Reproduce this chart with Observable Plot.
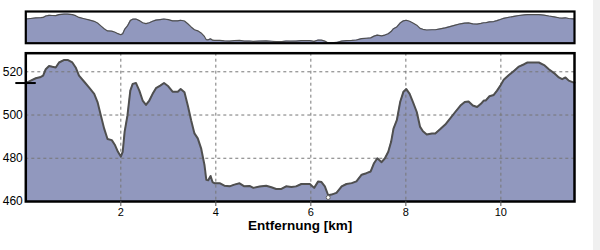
<!DOCTYPE html>
<html><head><meta charset="utf-8">
<script src="https://cdn.jsdelivr.net/npm/d3@7"></script>
<script src="https://cdn.jsdelivr.net/npm/@observablehq/plot@0.6"></script>
<style>
body{margin:0;background:#fff;font-family:"Liberation Sans",Arial,sans-serif;}
#wrap{position:relative;width:600px;height:250px;overflow:hidden;}
#wrap svg{position:absolute;left:0;top:0;overflow:visible;}
#strip{position:absolute;left:593px;top:0;width:7px;height:250px;background:#f0f0f0;}
</style></head><body><div id="wrap"><div id="strip"></div></div>
<script>
const distanceKm = [
  0, 0.105, 0.21, 0.316, 0.365, 0.42, 0.49, 0.56, 0.63, 0.70,
  0.81, 0.88, 0.98, 1.05, 1.12, 1.23, 1.33, 1.44, 1.51, 1.58,
  1.65, 1.72, 1.81, 1.88, 1.94, 2.00, 2.04, 2.08, 2.14, 2.20,
  2.25, 2.32, 2.39, 2.46, 2.53, 2.60, 2.67, 2.74, 2.83, 2.91,
  3.00, 3.09, 3.20, 3.26, 3.34, 3.41, 3.48, 3.55, 3.62, 3.69,
  3.76, 3.80, 3.84, 3.89, 3.93, 3.97, 4.08, 4.18, 4.29, 4.39,
  4.50, 4.60, 4.71, 4.79, 4.92, 5.06, 5.17, 5.27, 5.38, 5.48,
  5.59, 5.69, 5.80, 5.98, 6.07, 6.155, 6.225, 6.295, 6.365, 6.435,
  6.54, 6.65, 6.75, 6.86, 6.96, 7.07, 7.17, 7.26, 7.33, 7.40,
  7.49, 7.56, 7.63, 7.69, 7.74, 7.81, 7.88, 7.95, 8.01, 8.08,
  8.15, 8.23, 8.30, 8.36, 8.44, 8.55, 8.62, 8.72, 8.83, 8.93,
  9.04, 9.15, 9.24, 9.32, 9.41, 9.50, 9.58, 9.64, 9.68, 9.76,
  9.85, 9.92, 9.99, 10.06, 10.17, 10.28, 10.38, 10.49, 10.56, 10.66,
  10.80, 10.91, 11.01, 11.12, 11.22, 11.29, 11.36, 11.43, 11.52, 11.55
];
const elevationM = [
  514.8, 515.9, 517.0, 517.6, 518.2, 521.2, 522.7, 522.3, 522.0, 524.3,
  525.5, 525.5, 524.3, 522.0, 518.2, 515.4, 512.8, 509.8, 506.0, 499.8,
  493.7, 488.9, 488.4, 486.0, 483.0, 480.8, 483.0, 492.2, 499.8, 511.3,
  514.4, 514.8, 511.3, 506.7, 504.7, 506.7, 509.8, 512.4, 513.6, 514.8,
  513.3, 510.8, 510.8, 512.0, 510.5, 504.4, 497.6, 491.5, 489.2, 484.6,
  477.0, 470.0, 469.8, 471.8, 469.0, 468.5, 468.5, 467.3, 467.0, 467.8,
  468.4, 467.0, 467.2, 466.3, 466.9, 467.3, 466.6, 465.8, 465.8, 467.0,
  466.7, 467.0, 468.1, 468.1, 466.3, 469.3, 469.0, 467.0, 462.9, 463.2,
  464.0, 467.0, 468.1, 468.5, 469.3, 472.4, 473.1, 473.9, 477.7, 480.0,
  478.2, 480.0, 483.0, 487.6, 493.7, 497.6, 506.0, 510.8, 512.0, 509.8,
  506.0, 501.4, 494.5, 492.5, 491.0, 491.5, 491.5, 493.4, 495.6, 498.3,
  501.4, 504.4, 506.0, 506.3, 504.4, 503.7, 505.2, 506.7, 506.7, 508.7,
  509.3, 511.3, 513.6, 516.3, 518.5, 520.5, 522.4, 523.5, 524.3, 524.3,
  524.3, 523.1, 521.2, 519.4, 517.4, 516.6, 517.4, 515.9, 515.1, 515.0
];
const xTicks = [2, 4, 6, 8, 10];
const yTicks = [460, 480, 500, 520];
const xLabel = "Entfernung [km]";

const data = distanceKm.map((d, i) => ({d, e: elevationM[i]}));
const fillColor = "#9198be";
const lineColor = "#4f4f4f";
const font = "Liberation Sans, Arial, sans-serif";
const minIdx = d3.minIndex(elevationM);

const main = Plot.plot({
  width: 600, height: 250,
  marginLeft: 25.3, marginRight: 26, marginTop: 52.7, marginBottom: 49,
  x: {domain: [0, 11.55], axis: null},
  y: {domain: [460, 528.6], axis: null},
  style: {fontFamily: font, fontSize: "12px", background: "transparent", color: "black"},
  marks: [
    Plot.areaY(data, {x: "d", y1: 460, y2: "e", fill: fillColor}),
    Plot.ruleX(xTicks, {stroke: "#777", strokeDasharray: "3,3", strokeWidth: 1}),
    Plot.ruleY(yTicks, {stroke: "#777", strokeDasharray: "3,3", strokeWidth: 1}),
    Plot.line(data, {x: "d", y: "e", stroke: lineColor, strokeWidth: 2}),
    Plot.frame({stroke: "black", strokeWidth: 2.5}),
    Plot.axisX(xTicks, {tickSize: 5, tickPadding: 2, fontSize: 11, label: null, stroke: "#555"}),
    Plot.axisY(yTicks, {tickSize: 0, tickPadding: 3, fontSize: 12, label: null}),
    Plot.text([xLabel], {frameAnchor: "bottom", dy: 28.5, fontWeight: "bold", fontSize: 13.5, fill: "black"}),
    Plot.ruleY([elevationM[0]], {x1: -0.21, x2: 0.22, stroke: "black", strokeWidth: 2, clip: false}),
    Plot.dot([data[minIdx]], {x: "d", y: () => 460, dy: -4, r: 2, fill: "white", stroke: "#666", strokeWidth: 1})
  ]
});

const overview = Plot.plot({
  width: 600, height: 52,
  marginLeft: 25.3, marginRight: 26, marginTop: 11, marginBottom: 9.3,
  x: {domain: [0, 11.55], axis: null},
  y: {domain: [d3.min(elevationM) - 0.5, 531], axis: null},
  style: {background: "transparent"},
  marks: [
    Plot.areaY(data, {x: "d", y1: d3.min(elevationM) - 0.5, y2: "e", fill: fillColor}),
    Plot.line(data, {x: "d", y: "e", stroke: lineColor, strokeWidth: 1.2}),
    Plot.frame({stroke: "black", strokeWidth: 2.2})
  ]
});

const wrap = document.getElementById("wrap");
wrap.appendChild(main);
wrap.appendChild(overview);
</script>
</body></html>
